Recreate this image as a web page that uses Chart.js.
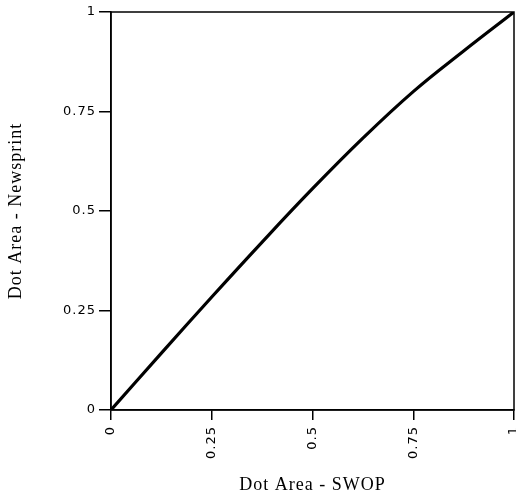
<!DOCTYPE html>
<html>
<head>
<meta charset="utf-8">
<script src="https://cdn.jsdelivr.net/npm/chart.js@4.4.1/dist/chart.umd.min.js"></script>
<style>
    html, body { margin: 0; padding: 0; background: #fff; }
    #wrap { width: 516px; height: 497px; }
</style>
</head>
<body>
<div id="wrap"><canvas id="chart" width="516" height="497"></canvas></div>
<script>
// Dot area curve: SWOP (x) vs Newsprint (y)
const swopArea = [0, 0.125, 0.25, 0.375, 0.5, 0.625, 0.75, 0.875, 1];
const newsprintArea = [0, 0.143, 0.284, 0.422, 0.556, 0.683, 0.800, 0.902, 1];
const xTicks = [0, 0.25, 0.5, 0.75, 1];
const yTicks = [0, 0.25, 0.5, 0.75, 1];
const tickText = ['0', '0.25', '0.5', '0.75', '1'];

const points = swopArea.map((x, i) => ({ x: x, y: newsprintArea[i] }));

// a bit of letter spacing, the scanned fonts are wide
const spacingPlugin = {
    id: 'spacing',
    beforeLayout(chart) { chart.ctx.letterSpacing = '1px'; },
    beforeDraw(chart) { chart.ctx.letterSpacing = '1px'; }
};

// frame around the plot area
const boxPlugin = {
    id: 'box',
    afterDatasetsDraw(chart) {
        const a = chart.chartArea;
        const ctx = chart.ctx;
        ctx.save();
        ctx.strokeStyle = '#000';
        ctx.lineWidth = 1.5;
        ctx.strokeRect(a.left, a.top, a.right - a.left, a.bottom - a.top);
        ctx.restore();
    }
};

const tickFont = { family: 'DejaVu Sans', size: 13 };
const fmt = v => tickText[xTicks.indexOf(v)];

new Chart(document.getElementById('chart').getContext('2d'), {
    type: 'scatter',
    data: {
        datasets: [{
            data: points,
            showLine: true,
            borderColor: '#000',
            borderWidth: 3.2,
            pointRadius: 0,
            tension: 0.4,
            fill: false
        }]
    },
    options: {
        responsive: false,
        animation: false,
        layout: { padding: { top: 12, right: 2, left: 0, bottom: 0 } },
        plugins: { legend: { display: false }, tooltip: { enabled: false } },
        scales: {
            x: {
                type: 'linear',
                min: 0,
                max: 1,
                afterBuildTicks: s => { s.ticks = xTicks.map(v => ({ value: v })); },
                afterFit: s => { s.height = 87; s.paddingLeft = 0; s.paddingRight = 0; },
                border: { color: '#000', width: 1.5 },
                grid: { drawOnChartArea: false, color: '#000', lineWidth: 1.5, tickLength: 10 },
                ticks: { color: '#000', font: tickFont, minRotation: 90, maxRotation: 90, padding: 6, callback: fmt },
                title: { display: true, text: 'Dot Area - SWOP', color: '#000', font: { family: 'Liberation Serif', size: 18 }, padding: { top: 2, bottom: 1 } }
            },
            y: {
                type: 'linear',
                min: 0,
                max: 1,
                afterBuildTicks: s => { s.ticks = yTicks.map(v => ({ value: v })); },
                afterFit: s => { s.width = 111; s.paddingTop = 0; s.paddingBottom = 0; },
                border: { color: '#000', width: 1.5 },
                grid: { drawOnChartArea: false, color: '#000', lineWidth: 1.5, tickLength: 12 },
                ticks: { color: '#000', font: tickFont, padding: 3, callback: fmt },
                title: { display: true, text: 'Dot Area - Newsprint', color: '#000', font: { family: 'Liberation Serif', size: 18 }, padding: { top: 5, bottom: 4 } }
            }
        }
    },
    plugins: [spacingPlugin, boxPlugin]
});
</script>
</body>
</html>
